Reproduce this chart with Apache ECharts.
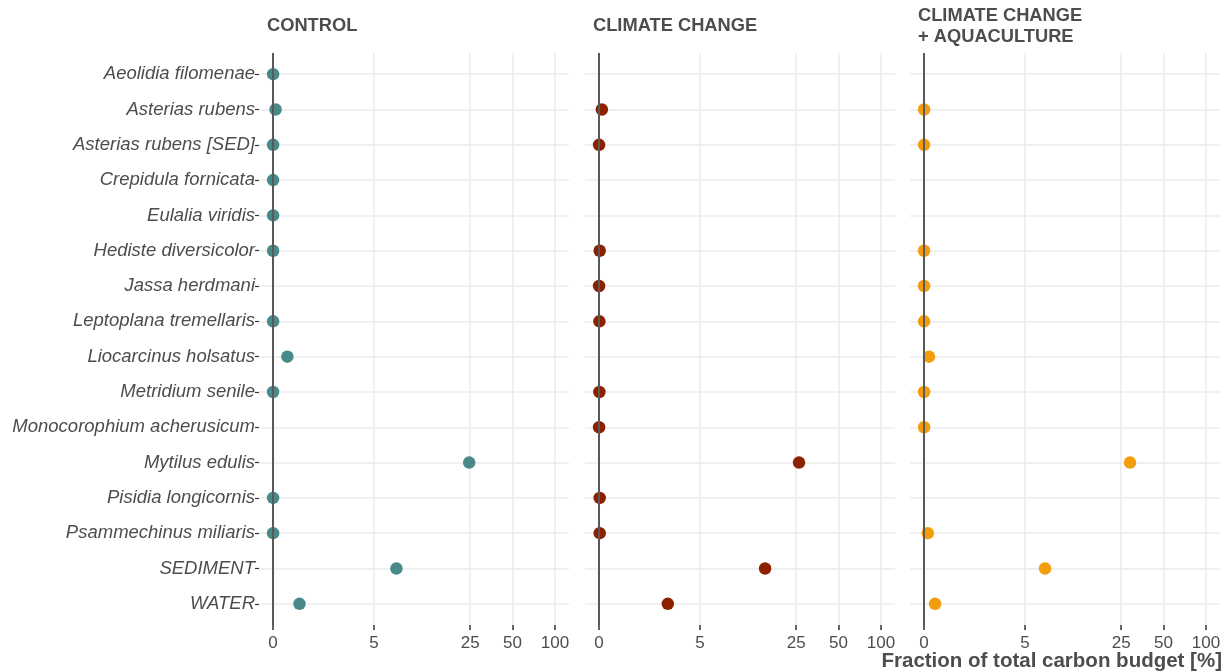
<!DOCTYPE html>
<html>
<head>
<meta charset="utf-8">
<script src="https://cdn.jsdelivr.net/npm/echarts@6/dist/echarts.min.js"></script>
<style>
  html, body { margin: 0; padding: 0; background: #fff; }
  #chart { width: 1225px; height: 672px; }
</style>
</head>
<body>
<div id="chart"></div>
<script>
// Species / compartments, top to bottom
const species = [
  'Aeolidia filomenae', 'Asterias rubens', 'Asterias rubens [SED]', 'Crepidula fornicata',
  'Eulalia viridis', 'Hediste diversicolor', 'Jassa herdmani', 'Leptoplana tremellaris',
  'Liocarcinus holsatus', 'Metridium senile', 'Monocorophium acherusicum', 'Mytilus edulis',
  'Pisidia longicornis', 'Psammechinus miliaris', 'SEDIMENT', 'WATER'
];

// Fraction of total carbon budget [%] per scenario (null = not present)
const controlVals = [0, 0.08, 0, 0, 0, 0, null, 0, 0.47, 0, null, 24.6, 0, 0, 7.37, 0.89];
const climateVals = [null, 0.09, 0, null, null, 0.02, 0, 0.01, null, 0.01, 0, 26.2, 0.02, 0.02, 15.0, 2.75];
const aquaVals    = [null, 0, 0, null, null, 0, 0, 0, 0.16, 0, 0, 28.9, null, 0.12, 7.08, 0.36];

const panelTitles = ['CONTROL', 'CLIMATE CHANGE', 'CLIMATE CHANGE\n+ AQUACULTURE'];
const panelColors = ['#488a8a', '#8c2100', '#f39c0c'];
const xTicks = [0, 5, 25, 50, 100];

// pseudo-log scale (asinh(x/2)), like ggplot's pseudo_log_trans
const T = v => Math.asinh(v / 2);
const tickPos = xTicks.map(T);
const xMin = -0.05 * T(100);
const xMax = 1.05 * T(100);

const TEXT = '#4d4d4d';
const FONT = 'Liberation Sans, Arial, sans-serif';
const GRID_LINE = { lineStyle: { color: '#ebebeb', width: 1.5 } };

const panels = [
  { left: 259, vals: controlVals },
  { left: 585, vals: climateVals },
  { left: 910, vals: aquaVals }
];

const chart = echarts.init(document.getElementById('chart'), null, { renderer: 'canvas' });

const grid = panels.map(p => ({ left: p.left, top: 53, width: 310, height: 572, outerBoundsMode: 'none' }));

const xAxis = panels.map((p, i) => ({
  type: 'value', gridIndex: i, min: xMin, max: xMax,
  axisLine: { show: false, onZero: false },
  axisTick: { show: true, length: 5, lineStyle: { color: '#333', width: 1.5 }, customValues: tickPos },
  axisLabel: {
    customValues: tickPos, margin: 10, color: TEXT, fontSize: 17, fontFamily: FONT,
    formatter: v => {
      const k = tickPos.findIndex(t => Math.abs(t - v) < 1e-6);
      return k >= 0 ? String(xTicks[k]) : '';
    }
  },
  splitLine: { show: true, ...GRID_LINE }
}));

const yIdx = species.map((_, i) => i);
const yAxis = panels.map((p, i) => ({
  type: 'value', gridIndex: i, inverse: true, min: -0.6, max: 15.6,
  axisLine: { show: false, onZero: false },
  axisTick: { show: i === 0, length: 4, lineStyle: { color: '#333', width: 1.2 }, customValues: yIdx },
  axisLabel: {
    show: i === 0, customValues: yIdx, margin: 4, color: TEXT, fontSize: 18.5,
    fontStyle: 'italic', fontFamily: FONT,
    formatter: v => species[Math.round(v)] || ''
  },
  splitLine: { show: true, ...GRID_LINE }
}));

const series = [];
panels.forEach((p, i) => {
  // zero reference line
  series.push({
    type: 'scatter', xAxisIndex: i, yAxisIndex: i, data: [], z: 1, silent: true,
    markLine: {
      silent: true, symbol: 'none', label: { show: false },
      lineStyle: { color: '#595959', width: 2, type: 'solid' },
      data: [{ xAxis: 0 }]
    }
  });
  series.push({
    type: 'scatter', xAxisIndex: i, yAxisIndex: i, z: 3,
    symbol: 'circle', symbolSize: 12.5,
    itemStyle: { color: panelColors[i], opacity: 1 },
    data: p.vals.map((v, k) => (v == null ? null : [T(v), k])).filter(d => d)
  });
});

const title = panelTitles.map((t, i) => ({
  text: t, left: panels[i].left + 8, top: t.includes('\n') ? 5 : 15, padding: 0,
  textStyle: { color: TEXT, fontSize: 18.3, fontWeight: 'bold', fontFamily: FONT, lineHeight: 21 }
}));
title.push({
  text: 'Fraction of total carbon budget [%]', right: 3, top: 650, padding: 0,
  textStyle: { color: TEXT, fontSize: 20.5, fontWeight: 'bold', fontFamily: FONT, lineHeight: 22 }
});

chart.setOption({
  animation: false,
  backgroundColor: '#fff',
  title, grid, xAxis, yAxis, series
});
</script>
</body>
</html>
